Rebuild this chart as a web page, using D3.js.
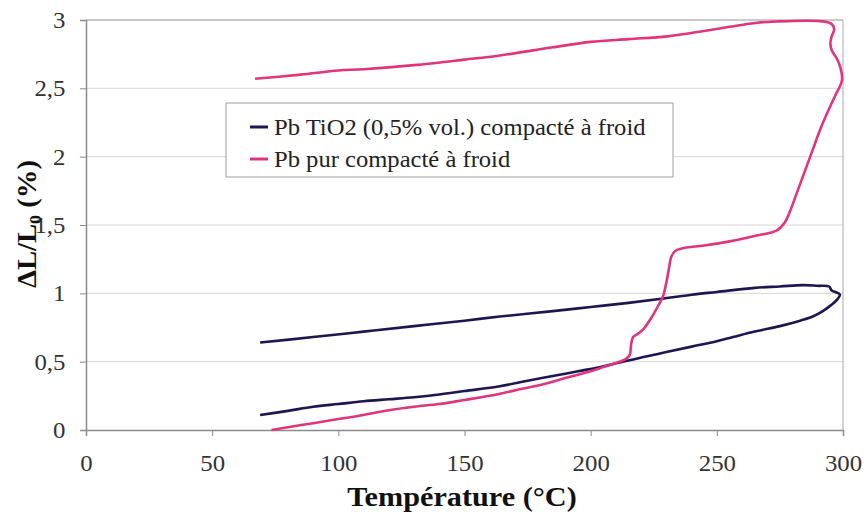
<!DOCTYPE html>
<html>
<head>
<meta charset="utf-8">
<script src="https://cdn.jsdelivr.net/npm/d3@7"></script>
<style>
  body { margin: 0; background: #fff; }
</style>
</head>
<body>
<svg id="chart" width="864" height="527"></svg>
<script>
// Pb TiO2 (0,5% vol.) : heating then cooling
const tio2Temp = [69, 80, 90, 100, 110, 120, 130, 140, 150, 164, 175, 185, 195, 205, 210.4, 220, 230, 240, 250, 256.4, 265, 275, 283, 288, 292, 295, 297.5, 298.8,
  297, 295.5, 294.5, 290, 284, 275, 265, 250, 240, 228, 215, 200, 185, 164, 150, 130, 110, 90, 69];
const tio2DL = [0.11, 0.14, 0.17, 0.19, 0.21, 0.225, 0.24, 0.26, 0.285, 0.32, 0.36, 0.395, 0.43, 0.465, 0.49, 0.53, 0.57, 0.61, 0.65, 0.68, 0.72, 0.76, 0.80, 0.83, 0.87, 0.91, 0.95, 0.99,
  1.01, 1.02, 1.05, 1.055, 1.06, 1.05, 1.04, 1.01, 0.99, 0.96, 0.93, 0.90, 0.87, 0.83, 0.80, 0.76, 0.72, 0.68, 0.64];

// Pb pur : heating then cooling
const pbTemp = [73.5, 80, 90, 100, 110, 120, 130, 140, 150, 160, 170, 180, 190, 200, 205, 210, 214, 215.5, 216, 216.8, 218.4, 221, 224, 226.5, 228.7, 230, 231, 232, 233.5, 236.6,
  245, 255, 265, 273.8, 277, 279, 282, 285, 288, 291, 294, 297, 299.6, 299, 297.5, 295.5, 295, 295.5, 296.5, 295.5, 292, 285, 275, 266, 255, 245, 230.3, 215, 200, 185, 164, 150, 130, 110, 100, 85, 67];
const pbDL = [0, 0.02, 0.05, 0.08, 0.11, 0.145, 0.17, 0.19, 0.22, 0.25, 0.29, 0.33, 0.38, 0.43, 0.46, 0.49, 0.52, 0.55, 0.62, 0.68, 0.70, 0.74, 0.82, 0.90, 0.98, 1.08, 1.18, 1.27, 1.31, 1.33,
  1.35, 1.38, 1.42, 1.46, 1.52, 1.60, 1.75, 1.90, 2.05, 2.20, 2.33, 2.45, 2.56, 2.65, 2.72, 2.78, 2.83, 2.88, 2.93, 2.97, 2.99, 2.995, 2.99, 2.98, 2.95, 2.92, 2.88, 2.86, 2.84, 2.80, 2.74, 2.71, 2.67, 2.64, 2.63, 2.60, 2.57];

const xTicks = [0, 50, 100, 150, 200, 250, 300];
const yTicks = [0, 0.5, 1, 1.5, 2, 2.5, 3];

const seriesNames = ["Pb TiO2 (0,5% vol.) compacté à froid", "Pb pur compacté à froid"];
const seriesColors = ["#1d1652", "#e0357c"];

const serif = "Liberation Serif";

const margin = {top: 20, right: 20, bottom: 97, left: 86};
const height = 527 - margin.top - margin.bottom;

const svg = d3.select("#chart");
const g = svg.append("g").attr("transform", `translate(${margin.left},${margin.top})`);

const x = d3.scaleLinear().domain([0, 300]).range([0, 757]);
const y = d3.scaleLinear().domain([0, 3]).range([height, 0]);

const fmt = d => String(d).replace(".", ",");

// gridlines
g.selectAll(".grid").data(yTicks.slice(1)).join("line")
  .attr("x1", 0).attr("x2", x(300))
  .attr("y1", d => y(d)).attr("y2", d => y(d))
  .attr("stroke", "#d6d6d6").attr("stroke-width", 1);

// plot frame (top + right)
g.append("line").attr("x1", x(300)).attr("x2", x(300)).attr("y1", 0).attr("y2", height)
  .attr("stroke", "#a8a8a8");
g.append("line").attr("x1", 0).attr("x2", x(300)).attr("y1", 0).attr("y2", 0)
  .attr("stroke", "#a8a8a8");

// axes
const xAxis = g.append("g").attr("transform", `translate(0,${height})`)
  .call(d3.axisBottom(x).tickValues(xTicks).tickFormat(fmt).tickSize(6).tickPadding(19));
const yAxis = g.append("g")
  .call(d3.axisLeft(y).tickValues(yTicks).tickFormat(fmt).tickSize(6).tickPadding(13));

[xAxis, yAxis].forEach(a => {
  a.attr("font-family", serif).attr("font-size", 23);
  a.select(".domain").attr("stroke", "#8a8a8a").attr("stroke-width", 1.5);
  a.selectAll(".tick line").attr("stroke", "#8a8a8a");
  a.selectAll(".tick text").attr("fill", "#333").attr("transform", "scale(1.08,1)");
});

// curves
const line = d3.line().x(d => x(d[0])).y(d => y(d[1])).curve(d3.curveCatmullRom.alpha(0.5));
const series = [d3.zip(tio2Temp, tio2DL), d3.zip(pbTemp, pbDL)];

g.selectAll(".curve").data(series).join("path")
  .attr("class", "curve")
  .attr("d", line)
  .attr("fill", "none")
  .attr("stroke", (d, i) => seriesColors[i])
  .attr("stroke-width", 2.6)
  .attr("stroke-linejoin", "round");

// legend
const legend = svg.append("g").attr("transform", "translate(226,103)");
legend.append("rect").attr("width", 447).attr("height", 74)
  .attr("fill", "#fff").attr("stroke", "#a0a0a0");
seriesNames.forEach((name, i) => {
  const row = legend.append("g").attr("transform", `translate(0,${24 + i * 32})`);
  row.append("line").attr("x1", 24).attr("x2", 42).attr("y1", 0).attr("y2", 0)
    .attr("stroke", seriesColors[i]).attr("stroke-width", 3);
  row.append("text").attr("transform", "translate(48,0) scale(1.07,1)").attr("dy", "0.35em")
    .attr("font-family", serif).attr("font-size", 23).attr("fill", "#222").text(name);
});

// axis titles
svg.append("text")
  .attr("transform", "translate(462,506) scale(1.12,1)")
  .attr("text-anchor", "middle")
  .attr("font-family", serif).attr("font-size", 27).attr("font-weight", "bold").attr("fill", "#111")
  .text("Température (°C)");

const yl = svg.append("text")
  .attr("transform", "translate(36,224) rotate(-90) scale(1.06,1)")
  .attr("text-anchor", "middle")
  .attr("font-family", serif).attr("font-size", 27).attr("font-weight", "bold").attr("fill", "#111");
yl.append("tspan").text("ΔL/L");
yl.append("tspan").attr("dy", 5).attr("font-size", 17).text("0");
yl.append("tspan").attr("dy", -5).text(" (%)");
</script>
</body>
</html>
